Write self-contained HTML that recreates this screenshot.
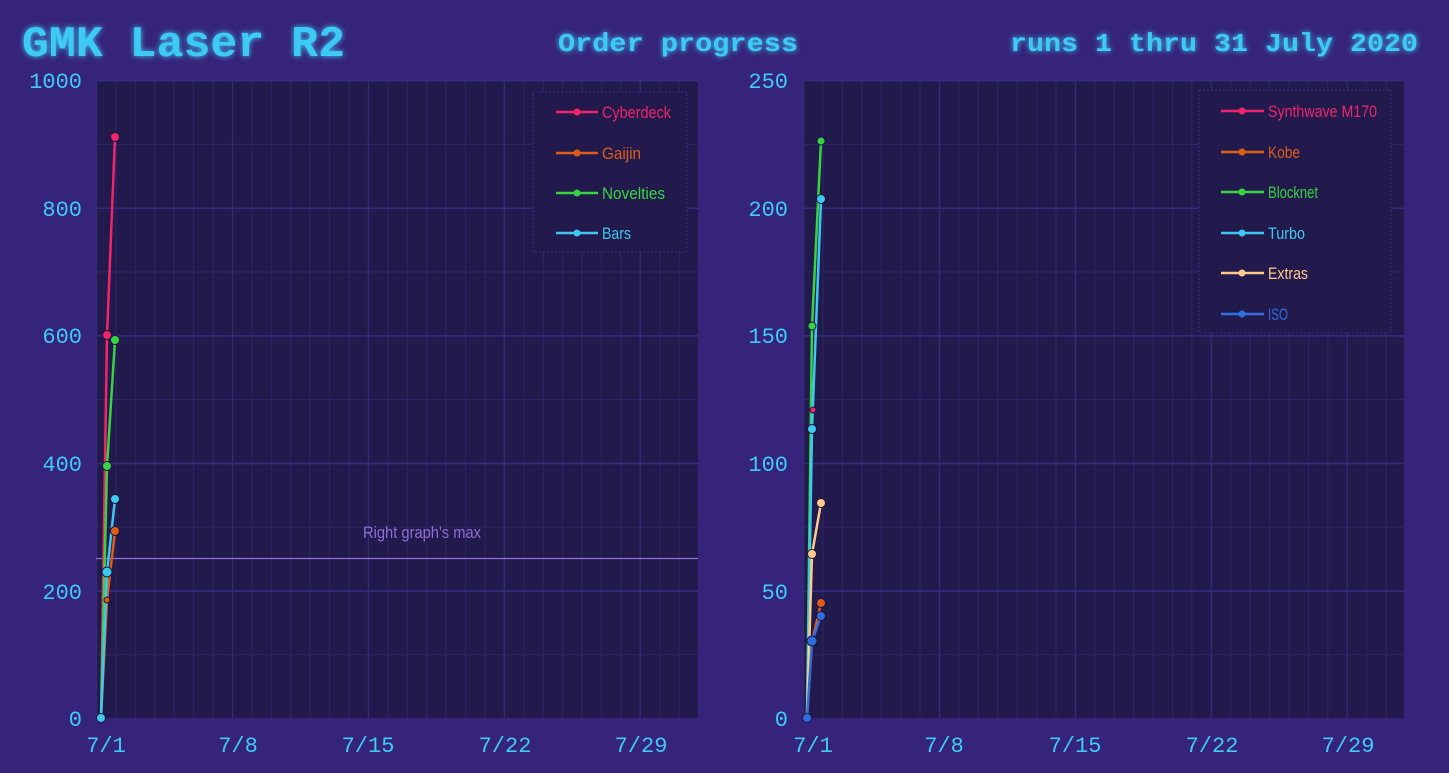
<!DOCTYPE html>
<html><head><meta charset="utf-8"><style>
html,body{margin:0;padding:0;background:#352479;}
svg{display:block}
.ax{font-family:"Liberation Mono",monospace;font-size:22px;fill:#3ecbf5}
.lg{font-family:"Liberation Sans",sans-serif;font-size:17px}
</style></head><body>
<svg width="1449" height="773" viewBox="0 0 1449 773" xmlns="http://www.w3.org/2000/svg">
<defs>
<filter id="glow" x="-20%" y="-50%" width="140%" height="200%"><feGaussianBlur stdDeviation="3" result="b"/><feMerge><feMergeNode in="b"/><feMergeNode in="SourceGraphic"/></feMerge></filter>
<pattern id="vL" x="96" y="0" width="19.42" height="10" patternUnits="userSpaceOnUse"><rect x="0" y="0" width="1" height="10" fill="#2e2566"/></pattern>
<pattern id="hL" x="0" y="80" width="10" height="63.8" patternUnits="userSpaceOnUse"><rect x="0" y="0" width="10" height="1" fill="#2e2566"/></pattern>
<pattern id="VL" x="96" y="0" width="135.9" height="10" patternUnits="userSpaceOnUse"><rect x="0" y="0" width="1.2" height="10" fill="#342a7a"/></pattern>
<pattern id="HL" x="0" y="80" width="10" height="127.6" patternUnits="userSpaceOnUse"><rect x="0" y="0" width="10" height="1.5" fill="#362b7e"/></pattern>
<pattern id="vR" x="803" y="0" width="19.42" height="10" patternUnits="userSpaceOnUse"><rect x="0" y="0" width="1" height="10" fill="#2e2566"/></pattern>
<pattern id="VR" x="803" y="0" width="135.9" height="10" patternUnits="userSpaceOnUse"><rect x="0" y="0" width="1.2" height="10" fill="#342a7a"/></pattern>
</defs>
<rect width="1449" height="773" fill="#352479"/>
<text x="22" y="56" font-family="Liberation Mono,monospace" font-weight="bold" font-size="44" fill="#3ecbf5" filter="url(#glow)" textLength="323" lengthAdjust="spacingAndGlyphs">GMK Laser R2</text>
<text x="558" y="51" font-family="Liberation Mono,monospace" font-weight="bold" font-size="26" fill="#3ecbf5" filter="url(#glow)" textLength="240" lengthAdjust="spacingAndGlyphs">Order progress</text>
<text x="1010" y="51" font-family="Liberation Mono,monospace" font-weight="bold" font-size="26" fill="#3ecbf5" filter="url(#glow)" textLength="408" lengthAdjust="spacingAndGlyphs">runs 1 thru 31 July 2020</text>

<!-- left plot -->
<rect x="96" y="80" width="602" height="638" fill="#221a4c"/>
<rect x="96" y="80" width="602" height="638" fill="url(#vL)"/>
<rect x="96" y="80" width="602" height="638" fill="url(#hL)"/>
<rect x="96" y="80" width="602" height="638" fill="url(#VL)"/>
<rect x="96" y="80" width="602" height="638" fill="url(#HL)"/>
<g class="ax" text-anchor="end">
<text x="82" y="88">1000</text><text x="82" y="216">800</text><text x="82" y="343">600</text><text x="82" y="471">400</text><text x="82" y="599">200</text><text x="82" y="726">0</text>
</g>
<g class="ax" text-anchor="middle">
<text x="106" y="752">7/1</text><text x="238" y="752">7/8</text><text x="368" y="752">7/15</text><text x="505" y="752">7/22</text><text x="641" y="752">7/29</text>
</g>
<line x1="96" y1="558.5" x2="698" y2="558.5" stroke="#8f72d8" stroke-width="1.2"/>
<text x="363" y="538" class="lg" fill="#8d6fd6" textLength="118" lengthAdjust="spacingAndGlyphs">Right graph's max</text>
<g fill="none" stroke-width="2.5">
<polyline points="101,718 107,335 115,137" stroke="#f0246a"/>
<polyline points="101,718 107,600 115,531" stroke="#de5e17"/>
<polyline points="101,718 107,466 115,340" stroke="#36d540"/>
<polyline points="101,718 107,572 115,499" stroke="#3ec8f0"/>
</g>
<g stroke="#1b1540" stroke-width="1">
<circle cx="107" cy="335" r="4.5" fill="#f0246a"/><circle cx="115" cy="137" r="4.5" fill="#f0246a"/>
<circle cx="107" cy="600" r="3" fill="#de5e17"/><circle cx="115" cy="531" r="4.5" fill="#de5e17"/>
<circle cx="107" cy="466" r="4.5" fill="#36d540"/><circle cx="115" cy="340" r="4.5" fill="#36d540"/>
<circle cx="107" cy="572" r="5" fill="#3ec8f0"/><circle cx="115" cy="499" r="4.5" fill="#3ec8f0"/>
<circle cx="101" cy="718" r="4.5" fill="#3ec8f0"/>
</g>
<rect x="533" y="92" width="154" height="160" fill="#221a4c" stroke="#3a2f88" stroke-dasharray="2,2"/>
<g class="lg">
<g stroke-width="2.5"><line x1="556" y1="112" x2="598" y2="112" stroke="#f0246a"/><line x1="556" y1="153" x2="598" y2="153" stroke="#de5e17"/><line x1="556" y1="193" x2="598" y2="193" stroke="#36d540"/><line x1="556" y1="233" x2="598" y2="233" stroke="#3ec8f0"/></g>
<circle cx="577" cy="112" r="3.5" fill="#f0246a"/><circle cx="577" cy="153" r="3.5" fill="#de5e17"/><circle cx="577" cy="193" r="3.5" fill="#36d540"/><circle cx="577" cy="233" r="3.5" fill="#3ec8f0"/>
<text x="602" y="118" fill="#f0246a" textLength="69" lengthAdjust="spacingAndGlyphs">Cyberdeck</text><text x="602" y="159" fill="#de5e17" textLength="39" lengthAdjust="spacingAndGlyphs">Gaijin</text><text x="602" y="199" fill="#36d540" textLength="63" lengthAdjust="spacingAndGlyphs">Novelties</text><text x="602" y="239" fill="#3ec8f0" textLength="29" lengthAdjust="spacingAndGlyphs">Bars</text>
</g>

<!-- right plot -->
<rect x="803" y="80" width="601" height="638" fill="#221a4c"/>
<rect x="803" y="80" width="601" height="638" fill="url(#vR)"/>
<rect x="803" y="80" width="601" height="638" fill="url(#hL)"/>
<rect x="803" y="80" width="601" height="638" fill="url(#VR)"/>
<rect x="803" y="80" width="601" height="638" fill="url(#HL)"/>
<g class="ax" text-anchor="end">
<text x="788" y="88">250</text><text x="788" y="216">200</text><text x="788" y="343">150</text><text x="788" y="471">100</text><text x="788" y="599">50</text><text x="788" y="726">0</text>
</g>
<g class="ax" text-anchor="middle">
<text x="813" y="752">7/1</text><text x="944" y="752">7/8</text><text x="1075" y="752">7/15</text><text x="1212" y="752">7/22</text><text x="1348" y="752">7/29</text>
</g>
<g fill="none" stroke-width="2.5">
<polyline points="807,718 812,412" stroke="#f0246a"/>
<polyline points="807,718 812,642 821,603" stroke="#de5e17"/>
<polyline points="807,718 812,326 821,141" stroke="#36d540"/>
<polyline points="807,718 812,429 821,199" stroke="#3ec8f0"/>
<polyline points="807,718 812,554 821,503" stroke="#ffc98a"/>
<polyline points="807,718 812,641 821,616" stroke="#2f6ee0"/>
</g>
<g stroke="#1b1540" stroke-width="1">
<circle cx="813" cy="410" r="3" fill="#f0246a"/>
<circle cx="821" cy="603" r="4.5" fill="#de5e17"/>
<circle cx="812" cy="326" r="4" fill="#36d540"/><circle cx="821" cy="141" r="4" fill="#36d540"/>
<circle cx="812" cy="429" r="4.5" fill="#3ec8f0"/><circle cx="821" cy="199" r="4.5" fill="#3ec8f0"/>
<circle cx="812" cy="554" r="4.5" fill="#ffc98a"/><circle cx="821" cy="503" r="4.5" fill="#ffc98a"/>
<circle cx="812" cy="641" r="5" fill="#2f6ee0"/><circle cx="821" cy="616" r="4.5" fill="#2f6ee0"/>
<circle cx="807" cy="718" r="4.5" fill="#2f6ee0"/>
</g>
<rect x="1199" y="90" width="192" height="243" fill="#221a4c" stroke="#3a2f88" stroke-dasharray="2,2"/>
<g class="lg">
<g stroke-width="2.5">
<line x1="1221" y1="111" x2="1264" y2="111" stroke="#f0246a"/>
<line x1="1221" y1="152" x2="1264" y2="152" stroke="#de5e17"/>
<line x1="1221" y1="192" x2="1264" y2="192" stroke="#36d540"/>
<line x1="1221" y1="233" x2="1264" y2="233" stroke="#3ec8f0"/>
<line x1="1221" y1="273" x2="1264" y2="273" stroke="#ffc98a"/>
<line x1="1221" y1="314" x2="1264" y2="314" stroke="#2f6ee0"/>
</g>
<circle cx="1242" cy="111" r="3.5" fill="#f0246a"/><circle cx="1242" cy="152" r="3.5" fill="#de5e17"/><circle cx="1242" cy="192" r="3.5" fill="#36d540"/><circle cx="1242" cy="233" r="3.5" fill="#3ec8f0"/><circle cx="1242" cy="273" r="3.5" fill="#ffc98a"/><circle cx="1242" cy="314" r="3.5" fill="#2f6ee0"/>
<text x="1268" y="117" fill="#f0246a" textLength="109" lengthAdjust="spacingAndGlyphs">Synthwave M170</text>
<text x="1268" y="158" fill="#de5e17" textLength="32" lengthAdjust="spacingAndGlyphs">Kobe</text>
<text x="1268" y="198" fill="#36d540" textLength="50" lengthAdjust="spacingAndGlyphs">Blocknet</text>
<text x="1268" y="239" fill="#3ec8f0" textLength="37" lengthAdjust="spacingAndGlyphs">Turbo</text>
<text x="1268" y="279" fill="#ffc98a" textLength="40" lengthAdjust="spacingAndGlyphs">Extras</text>
<text x="1268" y="320" fill="#2f6ee0" textLength="20" lengthAdjust="spacingAndGlyphs">ISO</text>
</g>
</svg>
</body></html>
